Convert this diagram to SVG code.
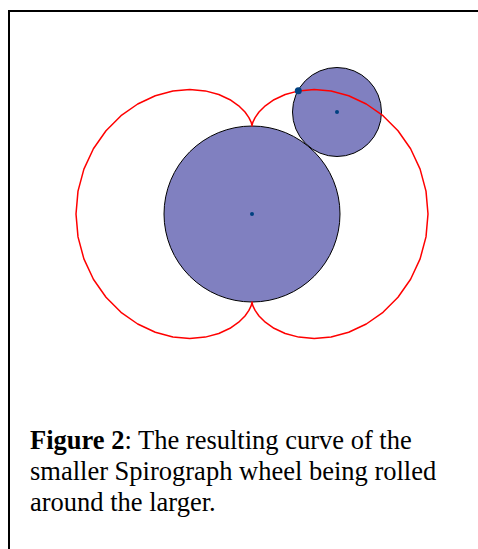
<svg xmlns="http://www.w3.org/2000/svg" width="478" height="549" viewBox="0 0 478 549">
<style>
.wheel{fill:#8080c0;stroke:#000;stroke-width:1}
.dot{fill:#004080}
.curve{fill:none;stroke:#ff0000;stroke-width:1.5;stroke-linejoin:round}
.cap{font-family:"Liberation Serif","Times New Roman",serif;font-size:26.5px;fill:#000}
</style>
<rect x="9" y="11" width="500" height="560" fill="#fff" stroke="#000" stroke-width="2"/>
<g id="big-wheel">
<circle class="wheel" cx="252" cy="214" r="88"/>
<circle class="dot" cx="252" cy="214" r="2"/>
</g>
<g id="small-wheel">
<circle class="wheel" cx="337" cy="112" r="44.5"/>
<circle class="dot" cx="337" cy="112" r="2"/>
</g>
<g id="curve">
<path class="curve" d="M252,126 L252.1,125 L252.9,122.1 L255.1,117.6 L259,112 L265.3,105.8 L274,99.7 L285.2,94.5 L298.7,90.9 L314.2,89.5 L331.1,91 L348.7,95.8 L366.3,104 L383,115.7 L398,130.7 L410.6,148.7 L420.1,169.1 L426,191.1 L428,214 L426,236.9 L420.1,258.9 L410.6,279.3 L398,297.3 L383,312.3 L366.3,324 L348.7,332.2 L331.1,337 L314.2,338.5 L298.7,337.1 L285.2,333.5 L274,328.3 L265.3,322.2 L259,316 L255.1,310.4 L252.9,305.9 L252.1,303 L252,302 L251.9,303 L251.1,305.9 L248.9,310.4 L245,316 L238.7,322.2 L230,328.3 L218.8,333.5 L205.3,337.1 L189.8,338.5 L172.9,337 L155.3,332.2 L137.7,324 L121,312.3 L106,297.3 L93.4,279.3 L83.9,258.9 L78,236.9 L76,214 L78,191.1 L83.9,169.1 L93.4,148.7 L106,130.7 L121,115.7 L137.7,104 L155.3,95.8 L172.9,91 L189.8,89.5 L205.3,90.9 L218.8,94.5 L230,99.7 L238.7,105.8 L245,112 L248.9,117.6 L251.1,122.1 L251.9,125 Z"/>
</g>
<g id="tracing-point">
<circle class="dot" cx="298.3" cy="90.8" r="3.5"/>
</g>
<g id="caption">
<text class="cap" x="30" y="449"><tspan font-weight="bold">Figure 2</tspan>: The resulting curve of the</text>
<text class="cap" x="30" y="480">smaller Spirograph wheel being rolled</text>
<text class="cap" x="30" y="511">around the larger.</text>
</g>
</svg>
